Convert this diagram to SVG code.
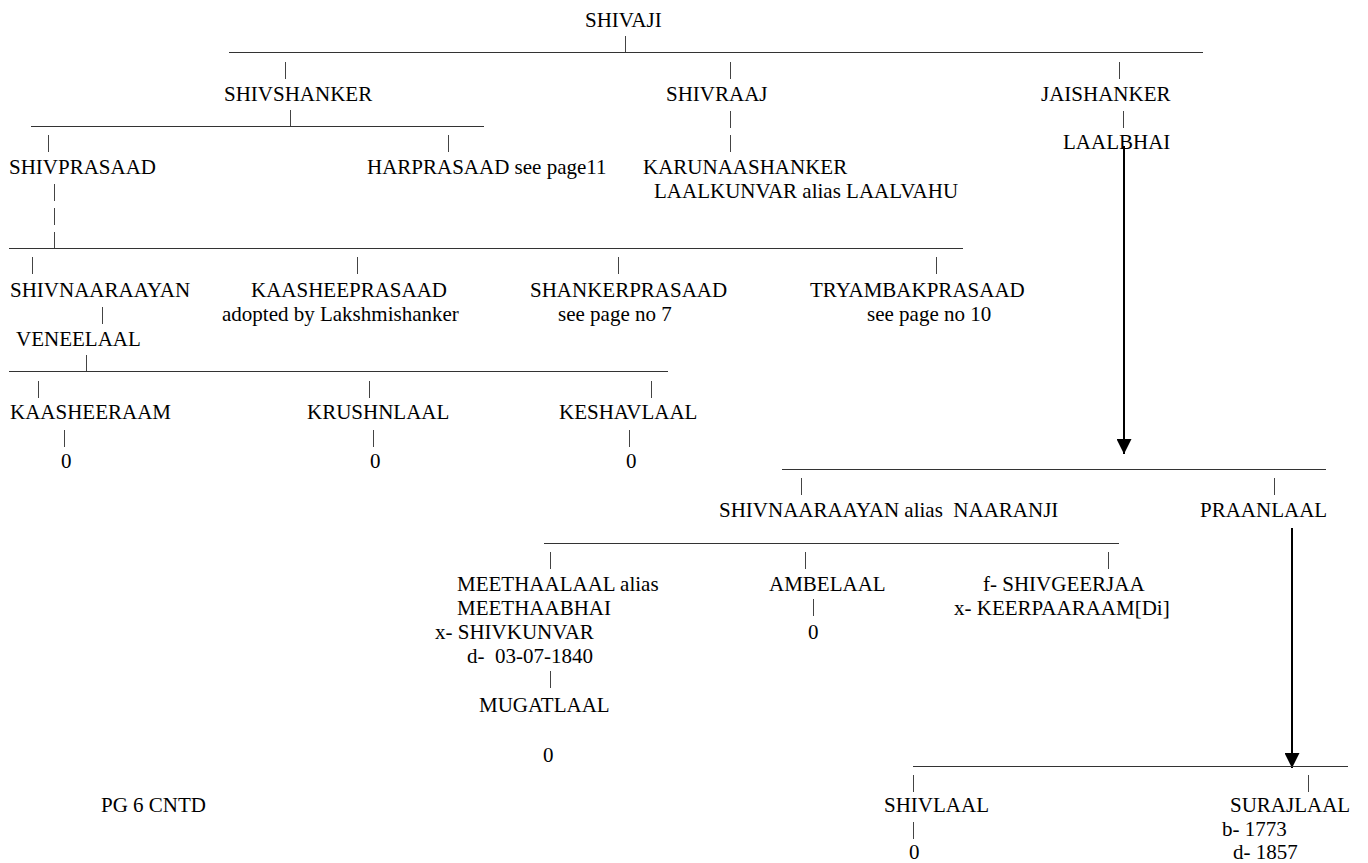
<svg xmlns="http://www.w3.org/2000/svg" width="1368" height="863" viewBox="0 0 1368 863">
<style>
text{font-family:"Liberation Serif","Times New Roman",serif;font-size:21px;fill:#000}
.h{stroke:#333;stroke-width:1;fill:none}
.v{stroke:#444;stroke-width:1;fill:none}
.a{stroke:#000;stroke-width:2;fill:none;marker-end:url(#ah)}
</style>
<defs>
<marker id="ah" viewBox="0 0 10 10" refX="10" refY="5" markerWidth="7.5" markerHeight="7.5" orient="auto" markerUnits="strokeWidth">
<path d="M0,0 L10,5 L0,10 z" fill="#000"/>
</marker>
</defs>
<rect width="1368" height="863" fill="#fff"/>
<g id="connectors">
<line class="h" x1="229" y1="52.5" x2="1203" y2="52.5"/>
<line class="v" x1="625.5" y1="36" x2="625.5" y2="52"/>
<line class="v" x1="285.5" y1="62" x2="285.5" y2="79"/>
<line class="v" x1="730.5" y1="62" x2="730.5" y2="79"/>
<line class="v" x1="1119.5" y1="62" x2="1119.5" y2="79"/>
<line class="h" x1="31" y1="126.5" x2="484" y2="126.5"/>
<line class="v" x1="290.5" y1="110" x2="290.5" y2="126"/>
<line class="v" x1="48.5" y1="135" x2="48.5" y2="152"/>
<line class="v" x1="448.5" y1="135" x2="448.5" y2="152"/>
<line class="v" x1="730.5" y1="111" x2="730.5" y2="128"/>
<line class="v" x1="730.5" y1="135" x2="730.5" y2="152"/>
<line class="v" x1="1123.5" y1="111" x2="1123.5" y2="128"/>
<line class="v" x1="54.5" y1="184" x2="54.5" y2="201"/>
<line class="v" x1="54.5" y1="208" x2="54.5" y2="225"/>
<line class="v" x1="54.5" y1="232" x2="54.5" y2="248"/>
<line class="h" x1="9" y1="248.5" x2="963" y2="248.5"/>
<line class="v" x1="32.5" y1="257" x2="32.5" y2="274"/>
<line class="v" x1="357.5" y1="257" x2="357.5" y2="274"/>
<line class="v" x1="618.5" y1="257" x2="618.5" y2="274"/>
<line class="v" x1="936.5" y1="257" x2="936.5" y2="274"/>
<line class="v" x1="102.5" y1="307" x2="102.5" y2="324"/>
<line class="h" x1="9" y1="371.5" x2="668" y2="371.5"/>
<line class="v" x1="86.5" y1="355" x2="86.5" y2="371"/>
<line class="v" x1="38.5" y1="381" x2="38.5" y2="398"/>
<line class="v" x1="369.5" y1="381" x2="369.5" y2="398"/>
<line class="v" x1="651.5" y1="381" x2="651.5" y2="398"/>
<line class="v" x1="64.5" y1="430" x2="64.5" y2="447"/>
<line class="v" x1="373.5" y1="430" x2="373.5" y2="447"/>
<line class="v" x1="629.5" y1="430" x2="629.5" y2="447"/>
<line class="a" x1="1124" y1="146" x2="1124" y2="454"/>
<line class="h" x1="782" y1="469.5" x2="1326" y2="469.5"/>
<line class="v" x1="801.5" y1="478" x2="801.5" y2="495"/>
<line class="v" x1="1274.5" y1="478" x2="1274.5" y2="495"/>
<line class="a" x1="1292" y1="528" x2="1292" y2="768"/>
<line class="h" x1="544" y1="543.5" x2="1119" y2="543.5"/>
<line class="v" x1="550.5" y1="552" x2="550.5" y2="569"/>
<line class="v" x1="805.5" y1="552" x2="805.5" y2="569"/>
<line class="v" x1="1108.5" y1="552" x2="1108.5" y2="569"/>
<line class="v" x1="813.5" y1="599" x2="813.5" y2="616"/>
<line class="v" x1="550.5" y1="671" x2="550.5" y2="688"/>
<line class="h" x1="913" y1="766.5" x2="1348" y2="766.5"/>
<line class="v" x1="913.5" y1="775" x2="913.5" y2="792"/>
<line class="v" x1="1308.5" y1="775" x2="1308.5" y2="792"/>
<line class="v" x1="913.5" y1="822" x2="913.5" y2="839"/>
</g>
<g id="n-shivaji"><text x="585" y="27">SHIVAJI</text></g>
<g id="n-shivshanker"><text x="224" y="101">SHIVSHANKER</text></g>
<g id="n-shivraaj"><text x="666" y="101">SHIVRAAJ</text></g>
<g id="n-jaishanker"><text x="1041" y="101">JAISHANKER</text></g>
<g id="n-laalbhai"><text x="1063" y="149">LAALBHAI</text></g>
<g id="n-shivprasaad"><text x="9" y="174">SHIVPRASAAD</text></g>
<g id="n-harprasaad"><text x="367" y="174">HARPRASAAD see page11</text></g>
<g id="n-karunaashanker"><text x="643" y="174">KARUNAASHANKER</text><text x="654" y="198">LAALKUNVAR alias LAALVAHU</text></g>
<g id="n-shivnaaraayan"><text x="10" y="297">SHIVNAARAAYAN</text></g>
<g id="n-kaasheeprasaad"><text x="251" y="297">KAASHEEPRASAAD</text><text x="222" y="321">adopted by Lakshmishanker</text></g>
<g id="n-shankerprasaad"><text x="530" y="297">SHANKERPRASAAD</text><text x="558" y="321">see page no 7</text></g>
<g id="n-tryambakprasaad"><text x="810" y="297">TRYAMBAKPRASAAD</text><text x="867" y="321">see page no 10</text></g>
<g id="n-veneelaal"><text x="16" y="346">VENEELAAL</text></g>
<g id="n-kaasheeraam"><text x="10" y="419">KAASHEERAAM</text><text x="61" y="468">0</text></g>
<g id="n-krushnlaal"><text x="307" y="419">KRUSHNLAAL</text><text x="370" y="468">0</text></g>
<g id="n-keshavlaal"><text x="559" y="419">KESHAVLAAL</text><text x="626" y="468">0</text></g>
<g id="n-shivnaaraayan2"><text x="719" y="517" xml:space="preserve">SHIVNAARAAYAN alias  NAARANJI</text></g>
<g id="n-praanlaal"><text x="1200" y="517">PRAANLAAL</text></g>
<g id="n-meethaalaal"><text x="457" y="591">MEETHAALAAL alias</text><text x="457" y="615">MEETHAABHAI</text><text x="435" y="639">x- SHIVKUNVAR</text><text x="467" y="663" xml:space="preserve">d-  03-07-1840</text></g>
<g id="n-mugatlaal"><text x="479" y="712">MUGATLAAL</text><text x="543" y="762">0</text></g>
<g id="n-ambelaal"><text x="769" y="591">AMBELAAL</text><text x="808" y="639">0</text></g>
<g id="n-shivgeerjaa"><text x="983" y="591">f- SHIVGEERJAA</text><text x="954" y="615">x- KEERPAARAAM[Di]</text></g>
<g id="n-shivlaal"><text x="884" y="812">SHIVLAAL</text><text x="909" y="859">0</text></g>
<g id="n-surajlaal"><text x="1230" y="812">SURAJLAAL</text><text x="1222" y="836">b- 1773</text><text x="1233" y="859">d- 1857</text></g>
<g id="n-pg6"><text x="101" y="812">PG 6 CNTD</text></g>
</svg>
